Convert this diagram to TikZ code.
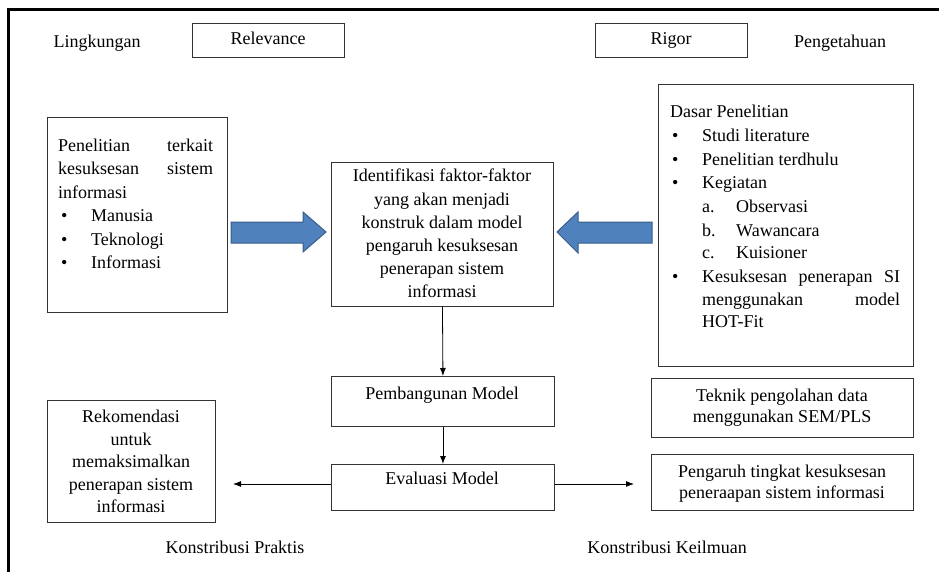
\documentclass[tikz,border=0pt]{standalone}
\usepackage{fontspec}
\setmainfont{Liberation Serif}
\usetikzlibrary{arrows.meta}
\newcommand\myfs{\fontsize{18}{23}\selectfont}
\definecolor{arrfill}{HTML}{4F81BD}
\definecolor{arrline}{HTML}{385D8A}
\begin{document}
\begin{tikzpicture}[x=1pt,y=-1pt,
  box/.style={draw=black!80, line width=0.9pt, inner sep=0pt, anchor=north west},
  t/.style={inner sep=0pt, font=\myfs, anchor=base west},
  tc/.style={inner sep=0pt, font=\myfs, anchor=base},
  conn/.style={draw=black, line width=0.8pt, -{Latex[length=8pt,width=6pt]}},
  blockarrow/.style={fill=arrfill, draw=arrline, line width=1pt, line join=miter}]
\useasboundingbox (0,0) rectangle (939,572);
\draw[line width=3pt] (8.5,572) -- (8.5,9.5) -- (939,9.5);

% boxes
\node[box, minimum width=152, minimum height=34] (rel) at (192,23) {};
\node[box, minimum width=152, minimum height=34] (rig) at (595,23) {};
\node[box, minimum width=180, minimum height=195] (lbox) at (47,117) {};
\node[box, minimum width=222, minimum height=144] (mid) at (331,162) {};
\node[box, minimum width=255, minimum height=282] (rbox) at (658,84) {};
\node[box, minimum width=223, minimum height=50] (pemb) at (331,376) {};
\node[box, minimum width=223, minimum height=46] (eval) at (331,464) {};
\node[box, minimum width=168, minimum height=122] (rek) at (47,400) {};
\node[box, minimum width=262, minimum height=59] (tek) at (651,378) {};
\node[box, minimum width=262, minimum height=56] (peng) at (651,454) {};

% top labels
\node[tc] (lingk) at (97,48) {Lingkungan};
\node[tc] (relt) at (268,45) {Relevance};
\node[tc] (rigt) at (671,45) {Rigor};
\node[tc] (penget) at (840,48) {Pengetahuan};

% left box text
\node[t] (l1) at (58,152) {\makebox[155pt]{Penelitian\hfill terkait}};
\node[t] (l2) at (58,175) {\makebox[155pt]{kesuksesan\hfill sistem}};
\node[t] (l3) at (58,198) {informasi};
\node[t] (l4) at (58,222) {\makebox[33pt][l]{\hspace*{3pt}•}Manusia};
\node[t] (l5) at (58,245) {\makebox[33pt][l]{\hspace*{3pt}•}Teknologi};
\node[t] (l6) at (58,268) {\makebox[33pt][l]{\hspace*{3pt}•}Informasi};

% middle box text
\node[tc] (m1) at (442,182) {Identifikasi faktor-faktor};
\node[tc] (m2) at (442,205) {yang akan menjadi};
\node[tc] (m3) at (442,228) {konstruk dalam model};
\node[tc] (m4) at (442,251) {pengaruh kesuksesan};
\node[tc] (m5) at (442,274) {penerapan sistem};
\node[tc] (m6) at (442,297) {informasi};

% right box text
\node[t] (r1) at (670,118) {Dasar Penelitian};
\node[t] (r2) at (670,142) {\makebox[32pt][l]{\hspace*{2pt}•}Studi literature};
\node[t] (r3) at (670,166) {\makebox[32pt][l]{\hspace*{2pt}•}Penelitian terdhulu};
\node[t] (r4) at (670,189) {\makebox[32pt][l]{\hspace*{2pt}•}Kegiatan};
\node[t] (r5) at (702,212) {\makebox[34pt][l]{a.}Observasi};
\node[t] (r6) at (702,236) {\makebox[34pt][l]{b.}Wawancara};
\node[t] (r7) at (702,258) {\makebox[34pt][l]{c.}Kuisioner};
\node[t] (r8) at (670,282) {\makebox[32pt][l]{\hspace*{2pt}•}\makebox[198pt]{Kesuksesan\hfill penerapan\hfill SI}};
\node[t] (r9) at (702,305) {\makebox[198pt]{menggunakan\hfill model}};
\node[t] (r10) at (702,327) {HOT-Fit};

% lower boxes text
\node[tc] (pembt) at (442,399) {Pembangunan Model};
\node[tc] (evalt) at (442,484) {Evaluasi Model};
\node[tc] (k1) at (131,422) {Rekomendasi};
\node[tc] (k2) at (131,445) {untuk};
\node[tc] (k3) at (131,467) {memaksimalkan};
\node[tc] (k4) at (131,490) {penerapan sistem};
\node[tc] (k5) at (131,512) {informasi};
\node[tc] (t1) at (782,401) {Teknik pengolahan data};
\node[tc] (t2) at (782,422) {menggunakan SEM/PLS};
\node[tc] (p1) at (782,477) {Pengaruh tingkat kesuksesan};
\node[tc] (p2) at (782,498) {peneraapan sistem informasi};
\node[tc] (kp) at (235,553) {Konstribusi Praktis};
\node[tc] (kk) at (667,553) {Konstribusi Keilmuan};

% block arrows
\draw[blockarrow] (231,222) -- (303,222) -- (303,212) -- (326,232) -- (303,252) -- (303,243) -- (231,243) -- cycle;
\draw[blockarrow] (652,222) -- (578,222) -- (578,212) -- (557,232) -- (578,253) -- (578,243) -- (652,243) -- cycle;

% connectors
\draw[conn] (mid.south) -- (pemb.north);
\draw[conn] (pemb.south) -- (eval.north);
\coordinate (lend) at (233,484);
\coordinate (rend) at (634,484);
\draw[conn] (eval.west |- lend) -- (lend);
\draw[conn] (eval.east |- rend) -- (rend);
\end{tikzpicture}
\end{document}
